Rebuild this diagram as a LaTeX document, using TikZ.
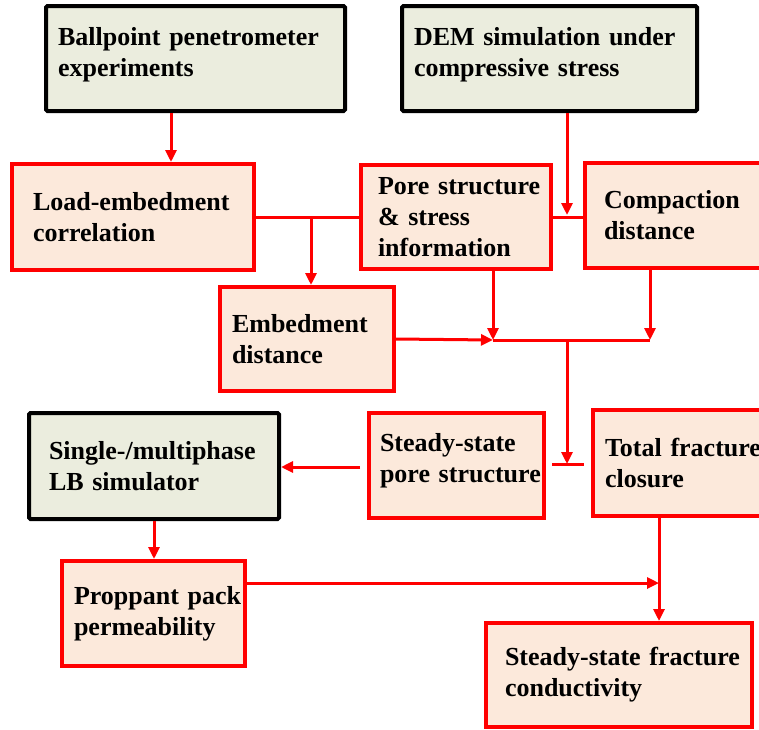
\documentclass[tikz,border=0pt]{standalone}
\usepackage{fontspec}
\setmainfont{Liberation Serif}
\usetikzlibrary{arrows.meta}
\definecolor{redc}{HTML}{FF0000}
\definecolor{orfill}{HTML}{FCE9DB}
\definecolor{grfill}{HTML}{EBEDDE}
\tikzset{
  basebox/.style={rectangle, inner xsep=0pt, inner ysep=0pt, align=left,
    font=\fontsize{26}{31}\selectfont\bfseries, text=black, line width=4pt},
  gbox/.style={basebox, draw=black, fill=grfill, rounded corners=1.5pt},
  obox/.style={basebox, draw=redc, fill=orfill},
  ln/.style={draw=redc, line width=3pt},
  arr/.style={ln, -{Triangle[length=12pt,width=11pt]}}
}
\begin{document}
\begin{tikzpicture}[x=1pt,y=-1pt]
\useasboundingbox (0,0) rectangle (759,729);
\clip (0,0) rectangle (759,729);
% boxes
\node[gbox, minimum width=299pt, minimum height=105pt, text width=275pt] (bp) at (195.5,58.5)
  {\mbox{Ballpoint penetrometer}\\\mbox{experiments}\\[-17pt]\mbox{}};
\node[gbox, minimum width=295pt, minimum height=105pt, text width=271pt] (dem) at (549.5,58.5)
  {\mbox{DEM simulation under}\\\mbox{compressive stress}\\[-17pt]\mbox{}};
\node[obox, minimum width=242pt, minimum height=106pt, text width=200pt] (le) at (133,217)
  {\mbox{Load-embedment}\\\mbox{correlation}};
\node[obox, minimum width=190pt, minimum height=104pt, text width=156pt] (ps) at (456,217)
  {\mbox{Pore structure}\\\mbox{\& stress}\\\mbox{information}};
\node[obox, minimum width=200pt, minimum height=105pt, text width=162pt] (cd) at (685,215.5)
  {\mbox{Compaction}\\\mbox{distance}};
\node[obox, minimum width=174pt, minimum height=104pt, text width=150pt] (ed) at (307,339)
  {\mbox{Embedment}\\\mbox{distance}};
\node[gbox, minimum width=250pt, minimum height=106pt, text width=210pt] (sm) at (154,466)
  {\mbox{Single-/multiphase}\\\mbox{LB simulator}};
\node[obox, minimum width=175pt, minimum height=105pt, text width=153pt] (sp) at (456.5,465.5)
  {\mbox{Steady-state}\\\mbox{pore structure}\\[-15pt]\mbox{}};
\node[obox, minimum width=207pt, minimum height=106pt, text width=183pt] (tf) at (696.5,463)
  {\mbox{Total fracture}\\\mbox{closure}};
\node[obox, minimum width=183pt, minimum height=105pt, text width=159pt] (pp) at (153.5,613.5)
  {\mbox{Proppant pack}\\\mbox{permeability}};
\node[obox, minimum width=266pt, minimum height=104pt, text width=228pt] (sf) at (619,675)
  {\mbox{Steady-state fracture}\\\mbox{conductivity}};
% connectors
\draw[arr] ([xshift=-24.5pt]bp.south) coordinate (a1) -- (a1 |- le.north);
\draw[ln] (le.east) -- (ps.west);
\coordinate (b1) at (311,217);
\draw[arr] (b1) -- (b1 |- ed.north);
\draw[ln] (ps.east) -- (ps.east -| cd.west);
\draw[arr] ([xshift=17.5pt]dem.south) coordinate (d1) -- (567,215);
\coordinate (jl) at (493,340);
\coordinate (jr) at (650,340);
\coordinate (jm) at (567,340);
\draw[ln] (jl) -- (jr);
\draw[arr] ([xshift=37pt]ps.south) -- (jl);
\draw[arr] ([xshift=-35pt]cd.south) -- (jr);
\draw[arr] (ed.east) -- (jl);
\coordinate (bar) at (567,464);
\coordinate (barl) at (552,464);
\coordinate (barr) at (584,464);
\draw[ln] (barl) -- (barr);
\draw[arr] (jm) -- (bar);
\coordinate (s0) at (360,467);
\draw[arr] (s0) -- (s0 -| sm.east);
\draw[arr] (sm.south) -- (sm.south |- pp.north);
\draw[arr] ([xshift=-37.5pt]tf.south) coordinate (t1) -- (t1 |- sf.north);
\draw[arr] ([yshift=30.5pt]pp.east) coordinate (p1) -- (p1 -| t1);
\end{tikzpicture}
\end{document}
